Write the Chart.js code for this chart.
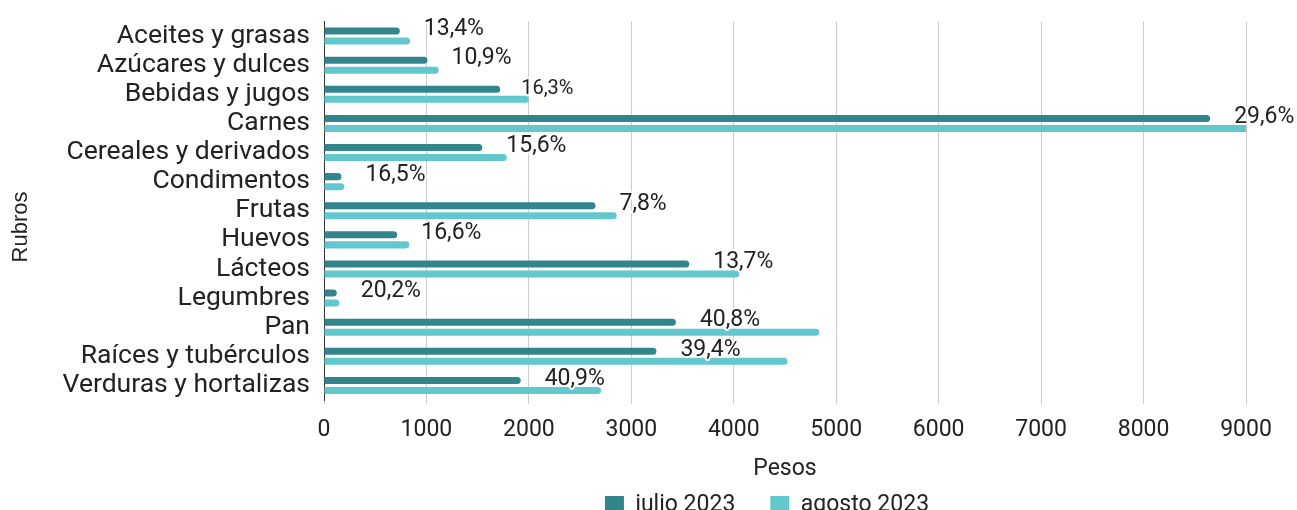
<!DOCTYPE html>
<html>
<head>
<meta charset="utf-8">
<script src="https://cdn.jsdelivr.net/npm/chart.js@4.4.0/dist/chart.umd.min.js"></script>
<style>
    html, body { margin: 0; padding: 0; background: #fff; overflow: hidden; }
    #wrap { width: 1297px; height: 527px; }
</style>
</head>
<body>
<div id="wrap"><canvas id="rubrosChart" width="1297" height="527"></canvas></div>
<script>
const rubros = [
    'Aceites y grasas', 'Azúcares y dulces', 'Bebidas y jugos', 'Carnes',
    'Cereales y derivados', 'Condimentos', 'Frutas', 'Huevos', 'Lácteos',
    'Legumbres', 'Pan', 'Raíces y tubérculos', 'Verduras y hortalizas'
];
const julio2023 = [740, 1010, 1720, 8650, 1545, 170, 2650, 715, 3565, 125, 3435, 3245, 1920];
const agosto2023 = [840, 1120, 2000, 11210, 1785, 198, 2857, 834, 4053, 150, 4835, 4525, 2705];
// variacion julio -> agosto
const variacion = ['13,4%', '10,9%', '16,3%', '29,6%', '15,6%', '16,5%', '7,8%', '16,6%', '13,7%', '20,2%', '40,8%', '39,4%', '40,9%'];
const pesosTicks = [0, 1000, 2000, 3000, 4000, 5000, 6000, 7000, 8000, 9000];

Chart.defaults.font.family = 'Roboto';
Chart.defaults.color = '#222222';

// draws the % label next to the end of each julio bar, plus the "Rubros" title
const etiquetasVariacion = {
    id: 'etiquetasVariacion',
    afterLayout(chart) {
        // move the legend under the plot like in the original
        chart.legend.left += 144;
        chart.legend.right += 144;
    },
    afterDatasetsDraw(chart) {
        const ctx = chart.ctx;
        const meta = chart.getDatasetMeta(0);
        ctx.save();
        ctx.textAlign = 'left';
        ctx.textBaseline = 'middle';
        ctx.lineJoin = 'round';
        meta.data.forEach(function (bar, i) {
            // the original squeezes the Bebidas label a bit
            const chica = (i === 2);
            ctx.font = (chica ? '20px' : '23px') + ' Roboto';
            const x = bar.x + (chica ? 21 : 24);
            const y = bar.y - (chica ? 0 : 1.5);
            ctx.lineWidth = 4;
            ctx.strokeStyle = '#ffffff';
            ctx.strokeText(variacion[i], x, y);
            ctx.fillStyle = '#222222';
            ctx.fillText(variacion[i], x, y);
        });
        ctx.restore();

        ctx.save();
        ctx.translate(21, 227);
        ctx.rotate(-Math.PI / 2);
        ctx.font = '22px "Liberation Sans"';
        ctx.textAlign = 'center';
        ctx.textBaseline = 'middle';
        ctx.fillStyle = '#222222';
        ctx.fillText('Rubros', 0, 0);
        ctx.restore();
    }
};

const ctx = document.getElementById('rubrosChart');
new Chart(ctx, {
    type: 'bar',
    data: {
        labels: rubros,
        datasets: [
            {
                label: 'julio 2023',
                data: julio2023,
                backgroundColor: '#32858b',
                borderRadius: 4,
                categoryPercentage: 0.688,
                barPercentage: 0.7
            },
            {
                label: 'agosto 2023',
                data: agosto2023,
                backgroundColor: '#63c7ce',
                borderRadius: 4,
                categoryPercentage: 0.688,
                barPercentage: 0.7
            }
        ]
    },
    plugins: [etiquetasVariacion],
    options: {
        indexAxis: 'y',
        responsive: false,
        animation: false,
        devicePixelRatio: 1,
        layout: {
            padding: { top: 21.5, right: 51, bottom: 0, left: 0 }
        },
        plugins: {
            tooltip: { enabled: false },
            legend: {
                position: 'bottom',
                labels: {
                    boxWidth: 19,
                    boxHeight: 19,
                    padding: 35,
                    font: { size: 23 },
                    color: '#222222'
                }
            }
        },
        scales: {
            x: {
                min: 0,
                max: 9000,
                afterBuildTicks: function (scale) {
                    scale.ticks = pesosTicks.map(function (v) { return { value: v }; });
                },
                afterFit: function (scale) {
                    scale.height = 59;
                },
                grid: {
                    color: '#cccccc',
                    drawTicks: true,
                    tickLength: 4
                },
                border: { display: false },
                ticks: {
                    font: { size: 23 },
                    color: '#222222',
                    padding: 12,
                    callback: function (v) { return String(v); }
                },
                title: {
                    display: true,
                    text: 'Pesos',
                    font: { size: 23 },
                    color: '#222222',
                    padding: { top: 4, bottom: -24 }
                }
            },
            y: {
                afterFit: function (scale) {
                    scale.width = 324;
                    scale.paddingTop = 0;
                    scale.paddingBottom = 0;
                },
                grid: { display: false, drawTicks: false },
                border: { display: true, color: '#333333', width: 1 },
                ticks: {
                    font: { size: 26.5 },
                    color: '#222222',
                    padding: 14,
                    autoSkip: false
                }
            }
        }
    }
});
</script>
</body>
</html>
